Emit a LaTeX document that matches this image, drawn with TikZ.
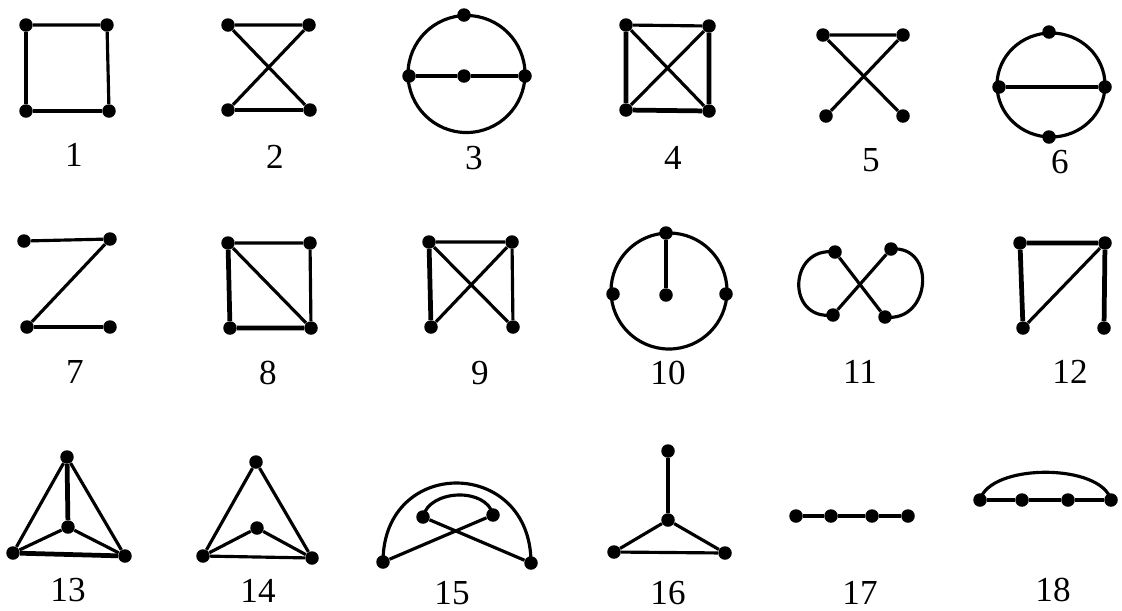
\documentclass[tikz,border=0pt]{standalone}
\usepackage{fontspec}
\setmainfont{Liberation Serif}
\begin{document}
\begin{tikzpicture}[x=0.02cm,y=-0.02cm,
  vtx/.style={circle,fill=black,inner sep=0pt,minimum size=0.27cm},
  ed/.style={line width=1.8pt},
  edk/.style={line width=2.7pt},
  lbl/.style={inner sep=0pt,font=\fontsize{20}{24}\selectfont}]
\useasboundingbox (0,0) rectangle (1122,610);
% ---------- Graph 1
\node[vtx] (a1) at (26,25) {};
\node[vtx] (b1) at (107,25) {};
\node[vtx] (c1) at (26,111) {};
\node[vtx] (d1) at (109,111) {};
\draw[ed] (a1) -- (b1) (b1) -- (d1);
\draw[edk] (a1) -- (c1) (c1) -- (d1);
\node[lbl] (l1) at (74,155) {1};
% ---------- Graph 2
\node[vtx] (a2) at (228,25) {};
\node[vtx] (b2) at (309,25) {};
\node[vtx] (c2) at (228,110) {};
\node[vtx] (d2) at (310,110) {};
\draw[ed] (a2) -- (b2) (a2) -- (d2) (b2) -- (c2);
\draw[edk] (c2) -- (d2);
\node[lbl] (l2) at (275,157) {2};
% ---------- Graph 3
\draw[ed] (466.5,74) circle[radius=58.5];
\node[vtx] (t3) at (464,15) {};
\node[vtx] (l3) at (409,76) {};
\node[vtx] (m3) at (464,76) {};
\node[vtx] (r3) at (525,76) {};
\draw[ed] (l3) -- (m3) (m3) -- (r3);
\node[lbl] (l3b) at (474,158) {3};
% ---------- Graph 4
\node[vtx] (a4) at (626,25) {};
\node[vtx] (b4) at (709,26) {};
\node[vtx] (c4) at (626,110) {};
\node[vtx] (d4) at (709,111) {};
\draw[ed] (a4) -- (b4) (a4) -- (d4) (b4) -- (c4);
\draw[edk] (a4) -- (c4) (b4) -- (d4) (c4) -- (d4);
\node[lbl] (l4) at (673,158) {4};
% ---------- Graph 5
\node[vtx] (a5) at (823,35) {};
\node[vtx] (b5) at (903,35) {};
\node[vtx] (c5) at (826,116) {};
\node[vtx] (d5) at (903,116) {};
\draw[ed] (a5) -- (b5) (a5) -- (d5) (b5) -- (c5);
\node[lbl] (l5) at (871,160) {5};
% ---------- Graph 6
\draw[ed] (1051,85) ellipse[x radius=54,y radius=52];
\node[vtx] (t6) at (1049,32) {};
\node[vtx] (l6) at (999,87) {};
\node[vtx] (r6) at (1105,87) {};
\node[vtx] (o6) at (1049,137) {};
\draw[ed] (l6) -- (r6);
\node[lbl] (l6b) at (1060,162) {6};
% ---------- Graph 7
\node[vtx] (a7) at (24,241) {};
\node[vtx] (b7) at (110,239) {};
\node[vtx] (c7) at (27,327) {};
\node[vtx] (d7) at (110,327) {};
\draw[ed] (a7) -- (b7) (b7) -- (c7);
\draw[edk] (c7) -- (d7);
\node[lbl] (l7) at (75,372) {7};
% ---------- Graph 8
\node[vtx] (a8) at (228,243) {};
\node[vtx] (b8) at (310,243) {};
\node[vtx] (c8) at (230,328) {};
\node[vtx] (d8) at (311,328) {};
\draw[ed] (a8) -- (b8) (b8) -- (d8) (a8) -- (d8);
\draw[edk] (a8) -- (c8) (c8) -- (d8);
\node[lbl] (l8) at (268,373) {8};
% ---------- Graph 9
\node[vtx] (a9) at (429,242) {};
\node[vtx] (b9) at (512,242) {};
\node[vtx] (c9) at (431,327) {};
\node[vtx] (d9) at (513,327) {};
\draw[ed] (a9) -- (b9) (b9) -- (d9) (a9) -- (d9) (b9) -- (c9);
\draw[edk] (a9) -- (c9);
\node[lbl] (l9) at (480,373) {9};
% ---------- Graph 10
\draw[ed] (669,291) circle[radius=58];
\node[vtx] (t10) at (666,233) {};
\node[vtx] (m10) at (666,295) {};
\node[vtx] (l10) at (613,294) {};
\node[vtx] (r10) at (726,294) {};
\draw[ed] (t10) -- (m10);
\node[lbl] (l10b) at (668,373) {10};
% ---------- Graph 11
\node[vtx] (a11) at (835,252) {};
\node[vtx] (b11) at (891,249) {};
\node[vtx] (c11) at (833,315) {};
\node[vtx] (d11) at (885,317) {};
\draw[ed] (a11) -- (d11) (b11) -- (c11);
\draw[ed] (a11.center) .. controls +(-47,-6) and +(-47,6) .. (c11.center);
\draw[ed] (b11.center) .. controls +(46,-4) and +(46,6) .. (d11.center);
\node[lbl] (l11) at (860,372) {11};
% ---------- Graph 12
\node[vtx] (a12) at (1020,243) {};
\node[vtx] (b12) at (1105,243) {};
\node[vtx] (c12) at (1023,328) {};
\node[vtx] (d12) at (1104,328) {};
\draw[ed] (b12) -- (c12);
\draw[edk] (a12) -- (b12) (a12) -- (c12) (b12) -- (d12);
\node[lbl] (l12) at (1070,372) {12};
% ---------- Graph 13
\node[vtx] (t13) at (67,457) {};
\node[vtx] (m13) at (68,527) {};
\node[vtx] (l13) at (13,553) {};
\node[vtx] (r13) at (125,556) {};
\draw[ed] (t13) -- (l13) (t13) -- (r13) (m13) -- (l13) (m13) -- (r13);
\draw[edk] (t13) -- (m13) (l13) -- (r13);
\node[lbl] (l13b) at (68,590) {13};
% ---------- Graph 14
\node[vtx] (t14) at (256,462) {};
\node[vtx] (m14) at (257,528) {};
\node[vtx] (l14) at (203,556) {};
\node[vtx] (r14) at (312,558) {};
\draw[ed] (t14) -- (l14) (t14) -- (r14) (l14) -- (r14) (l14) -- (m14) (m14) -- (r14);
\node[lbl] (l14b) at (258,591) {14};
% ---------- Graph 15
\node[vtx] (l15) at (383,562) {};
\node[vtx] (r15) at (531,563) {};
\node[vtx] (il15) at (423,517) {};
\node[vtx] (ir15) at (493,515) {};
\draw[ed] (l15.center) .. controls +(0,-106) and +(0,-106) .. (r15.center);
\draw[ed] (il15.center) .. controls +(6,-28) and +(-6,-28) .. (ir15.center);
\draw[ed] (il15) -- (r15) (ir15) -- (l15);
\node[lbl] (l15b) at (452,593) {15};
% ---------- Graph 16
\node[vtx] (t16) at (668,451) {};
\node[vtx] (m16) at (668,520) {};
\node[vtx] (l16) at (614,552) {};
\node[vtx] (r16) at (725,553) {};
\draw[ed] (m16) -- (l16) (m16) -- (r16) (l16) -- (r16);
\draw[edk] (t16) -- (m16);
\node[lbl] (l16b) at (668,593) {16};
% ---------- Graph 17
\node[vtx] (a17) at (796,516) {};
\node[vtx] (b17) at (831,516) {};
\node[vtx] (c17) at (872,516) {};
\node[vtx] (d17) at (908,516) {};
\draw[ed] (a17) -- (b17) (b17) -- (c17) (c17) -- (d17);
\node[lbl] (l17) at (860,593) {17};
% ---------- Graph 18
\node[vtx] (a18) at (980,500) {};
\node[vtx] (b18) at (1022,500) {};
\node[vtx] (c18) at (1068,500) {};
\node[vtx] (d18) at (1111,500) {};
\draw[edk] (a18) -- (b18) (b18) -- (c18) (c18) -- (d18);
\draw[ed] (a18.center) .. controls +(10,-37) and +(-10,-37) .. (d18.center);
\node[lbl] (l18) at (1053,590) {18};
\end{tikzpicture}
\end{document}
